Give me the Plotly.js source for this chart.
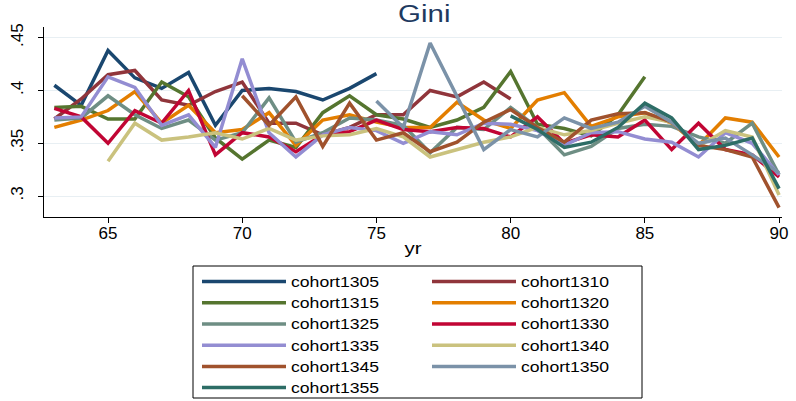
<!DOCTYPE html>
<html><head><meta charset="utf-8">
<script src="https://cdn.plot.ly/plotly-3.0.1.min.js"></script>
<style>html,body{margin:0;padding:0;background:#fff}#c{width:796px;height:401px}
.legendtext,.legend2text{transform-box:fill-box;transform-origin:0% 50%;transform:scaleX(1.26)}
.gtitle,.xtitle{transform-box:fill-box;transform-origin:50% 50%;transform:scaleX(1.28)}</style>
</head><body><div id="c"></div>
<script>
const yrs1305 = [63,64,65,66,67,68,69,70,71,72,73,74,75];
const g1305 = [.405,.386,.438,.412,.402,.417,.367,.400,.402,.399,.391,.402,.416];
const yrs1310 = [63,64,65,66,67,68,69,70,71,72,73,74,75,76,77,78,79,80];
const g1310 = [.373,.392,.415,.419,.391,.386,.399,.408,.369,.369,.358,.365,.377,.377,.400,.394,.408,.392];
const yrs1315 = [63,64,65,66,67,68,69,70,71,72,73,74,75,76,77,78,79,80,81,82,83,84,85];
const g1315 = [.384,.385,.373,.373,.408,.394,.355,.335,.353,.346,.379,.395,.377,.373,.365,.372,.384,.418,.368,.364,.357,.377,.413];
const yrs6390 = [63,64,65,66,67,68,69,70,71,72,73,74,75,76,77,78,79,80,81,82,83,84,85,86,87,88,89,90];
const g1320 = [.365,.372,.381,.399,.369,.386,.360,.363,.379,.348,.372,.377,.370,.365,.365,.389,.372,.364,.391,.398,.366,.375,.379,.369,.348,.374,.370,.337];
const g1325 = [.372,.374,.395,.377,.364,.372,.353,.360,.393,.351,.360,.374,.372,.367,.341,.365,.363,.384,.365,.339,.347,.364,.368,.366,.356,.350,.369,.320];
const g1330 = [.383,.375,.350,.381,.369,.400,.339,.360,.356,.342,.358,.361,.372,.363,.361,.365,.364,.356,.375,.350,.358,.356,.372,.344,.369,.344,.339,.318];
const g1335 = [.374,.375,.413,.403,.367,.377,.346,.430,.360,.337,.358,.365,.362,.350,.361,.358,.369,.368,.362,.348,.360,.361,.354,.351,.337,.360,.350,.320];
const yrs1340 = [65,66,67,68,69,70,71,72,73,74,75,76,77,78,79,80,81,82,83,84,85,86,87,88,89,90];
const g1340 = [.333,.369,.353,.356,.360,.354,.364,.353,.357,.358,.364,.356,.337,.344,.351,.356,.365,.358,.362,.369,.375,.370,.347,.362,.356,.301];
const yrs1345 = [70,71,72,73,74,75,76,77,78,79,80,81,82,83,84,85,86,87,88,89,90];
const g1345 = [.395,.367,.394,.347,.388,.353,.360,.342,.351,.370,.382,.365,.351,.372,.378,.379,.370,.348,.344,.337,.289];
const yrs1350 = [75,76,77,78,79,80,81,82,83,84,85,86,87,88,89,90];
const g1350 = [.390,.365,.445,.394,.344,.363,.356,.374,.364,.370,.385,.370,.350,.355,.339,.322];
const yrs1355 = [80,81,82,83,84,85,86,87,88,89,90];
const g1355 = [.376,.363,.346,.351,.365,.388,.374,.344,.348,.355,.307];

const names = ['cohort1305','cohort1310','cohort1315','cohort1320','cohort1325','cohort1330','cohort1335','cohort1340','cohort1345','cohort1350','cohort1355'];
const xs = [yrs1305,yrs1310,yrs1315,yrs6390,yrs6390,yrs6390,yrs6390,yrs1340,yrs1345,yrs1350,yrs1355];
const ys = [g1305,g1310,g1315,g1320,g1325,g1330,g1335,g1340,g1345,g1350,g1355];
const colors = ['#1a476f','#90353b','#55752f','#e37e00','#6e8e84','#c10534','#938dd2','#cac27e','#a0522d','#7b92a8','#2d6d66'];
const xTickVals = [65,70,75,80,85,90];
const yTickVals = [0.3,0.35,0.4,0.45];
const yTickText = ['.3','.35','.4','.45'];

const FONT = 'Liberation Sans, Arial, sans-serif';
const traces = names.map((n,i)=>({
  type:'scatter', mode:'lines', name:n, x:xs[i], y:ys[i],
  line:{color:colors[i], width:3.5},
  legend: (i%2===0)?'legend':'legend2'
}));

const legBase = {
  bgcolor:'rgba(0,0,0,0)', borderwidth:0, orientation:'v',
  font:{family:FONT, size:14, color:'#000'},
  yanchor:'top', xanchor:'left', tracegroupgap:0, itemwidth:84
};

const layout = {
  width:796, height:401,
  margin:{l:44, r:14, t:27, b:184, autoexpand:false},
  paper_bgcolor:'#fff', plot_bgcolor:'#fff',
  showlegend:true,
  title:{text:'Gini', xref:'container', x:0.533, xanchor:'center', yref:'container', y:0.965, yanchor:'middle',
         font:{family:FONT, size:23, color:'#1e3a5f'}},
  xaxis:{range:[62.615,90.11], tickvals:xTickVals, ticks:'outside', ticklen:5,
         ticklabelstandoff:-4,
         tickcolor:'#000', showline:true, linecolor:'#000', linewidth:1, showgrid:false, zeroline:false,
         tickfont:{family:FONT, size:17, color:'#000'},
         title:{text:'yr', standoff:0, font:{family:FONT, size:16, color:'#000'}}},
  yaxis:{range:[0.2801,0.4602], tickvals:yTickVals, ticktext:yTickText, tickangle:-90, ticks:'outside', ticklen:5,
         ticklabelstandoff:8,
         tickcolor:'#000', showline:true, linecolor:'#000', linewidth:1, showgrid:true, gridcolor:'#e8eff3', gridwidth:1, zeroline:false,
         tickfont:{family:FONT, size:17, color:'#000'}},
  legend: Object.assign({}, legBase, {x:(197-44)/738, y:(217-266)/190}),
  legend2: Object.assign({}, legBase, {x:(427-44)/738, y:(217-266)/190}),
  shapes:[{type:'rect', xref:'paper', yref:'paper', x0:(193-44)/738, x1:(642-44)/738, y0:(217-398)/190, y1:(217-266)/190,
           line:{color:'#000', width:1}, fillcolor:'rgba(0,0,0,0)'}]
};
Plotly.newPlot('c', traces, layout, {displayModeBar:false, staticPlot:true});
</script></body></html>
